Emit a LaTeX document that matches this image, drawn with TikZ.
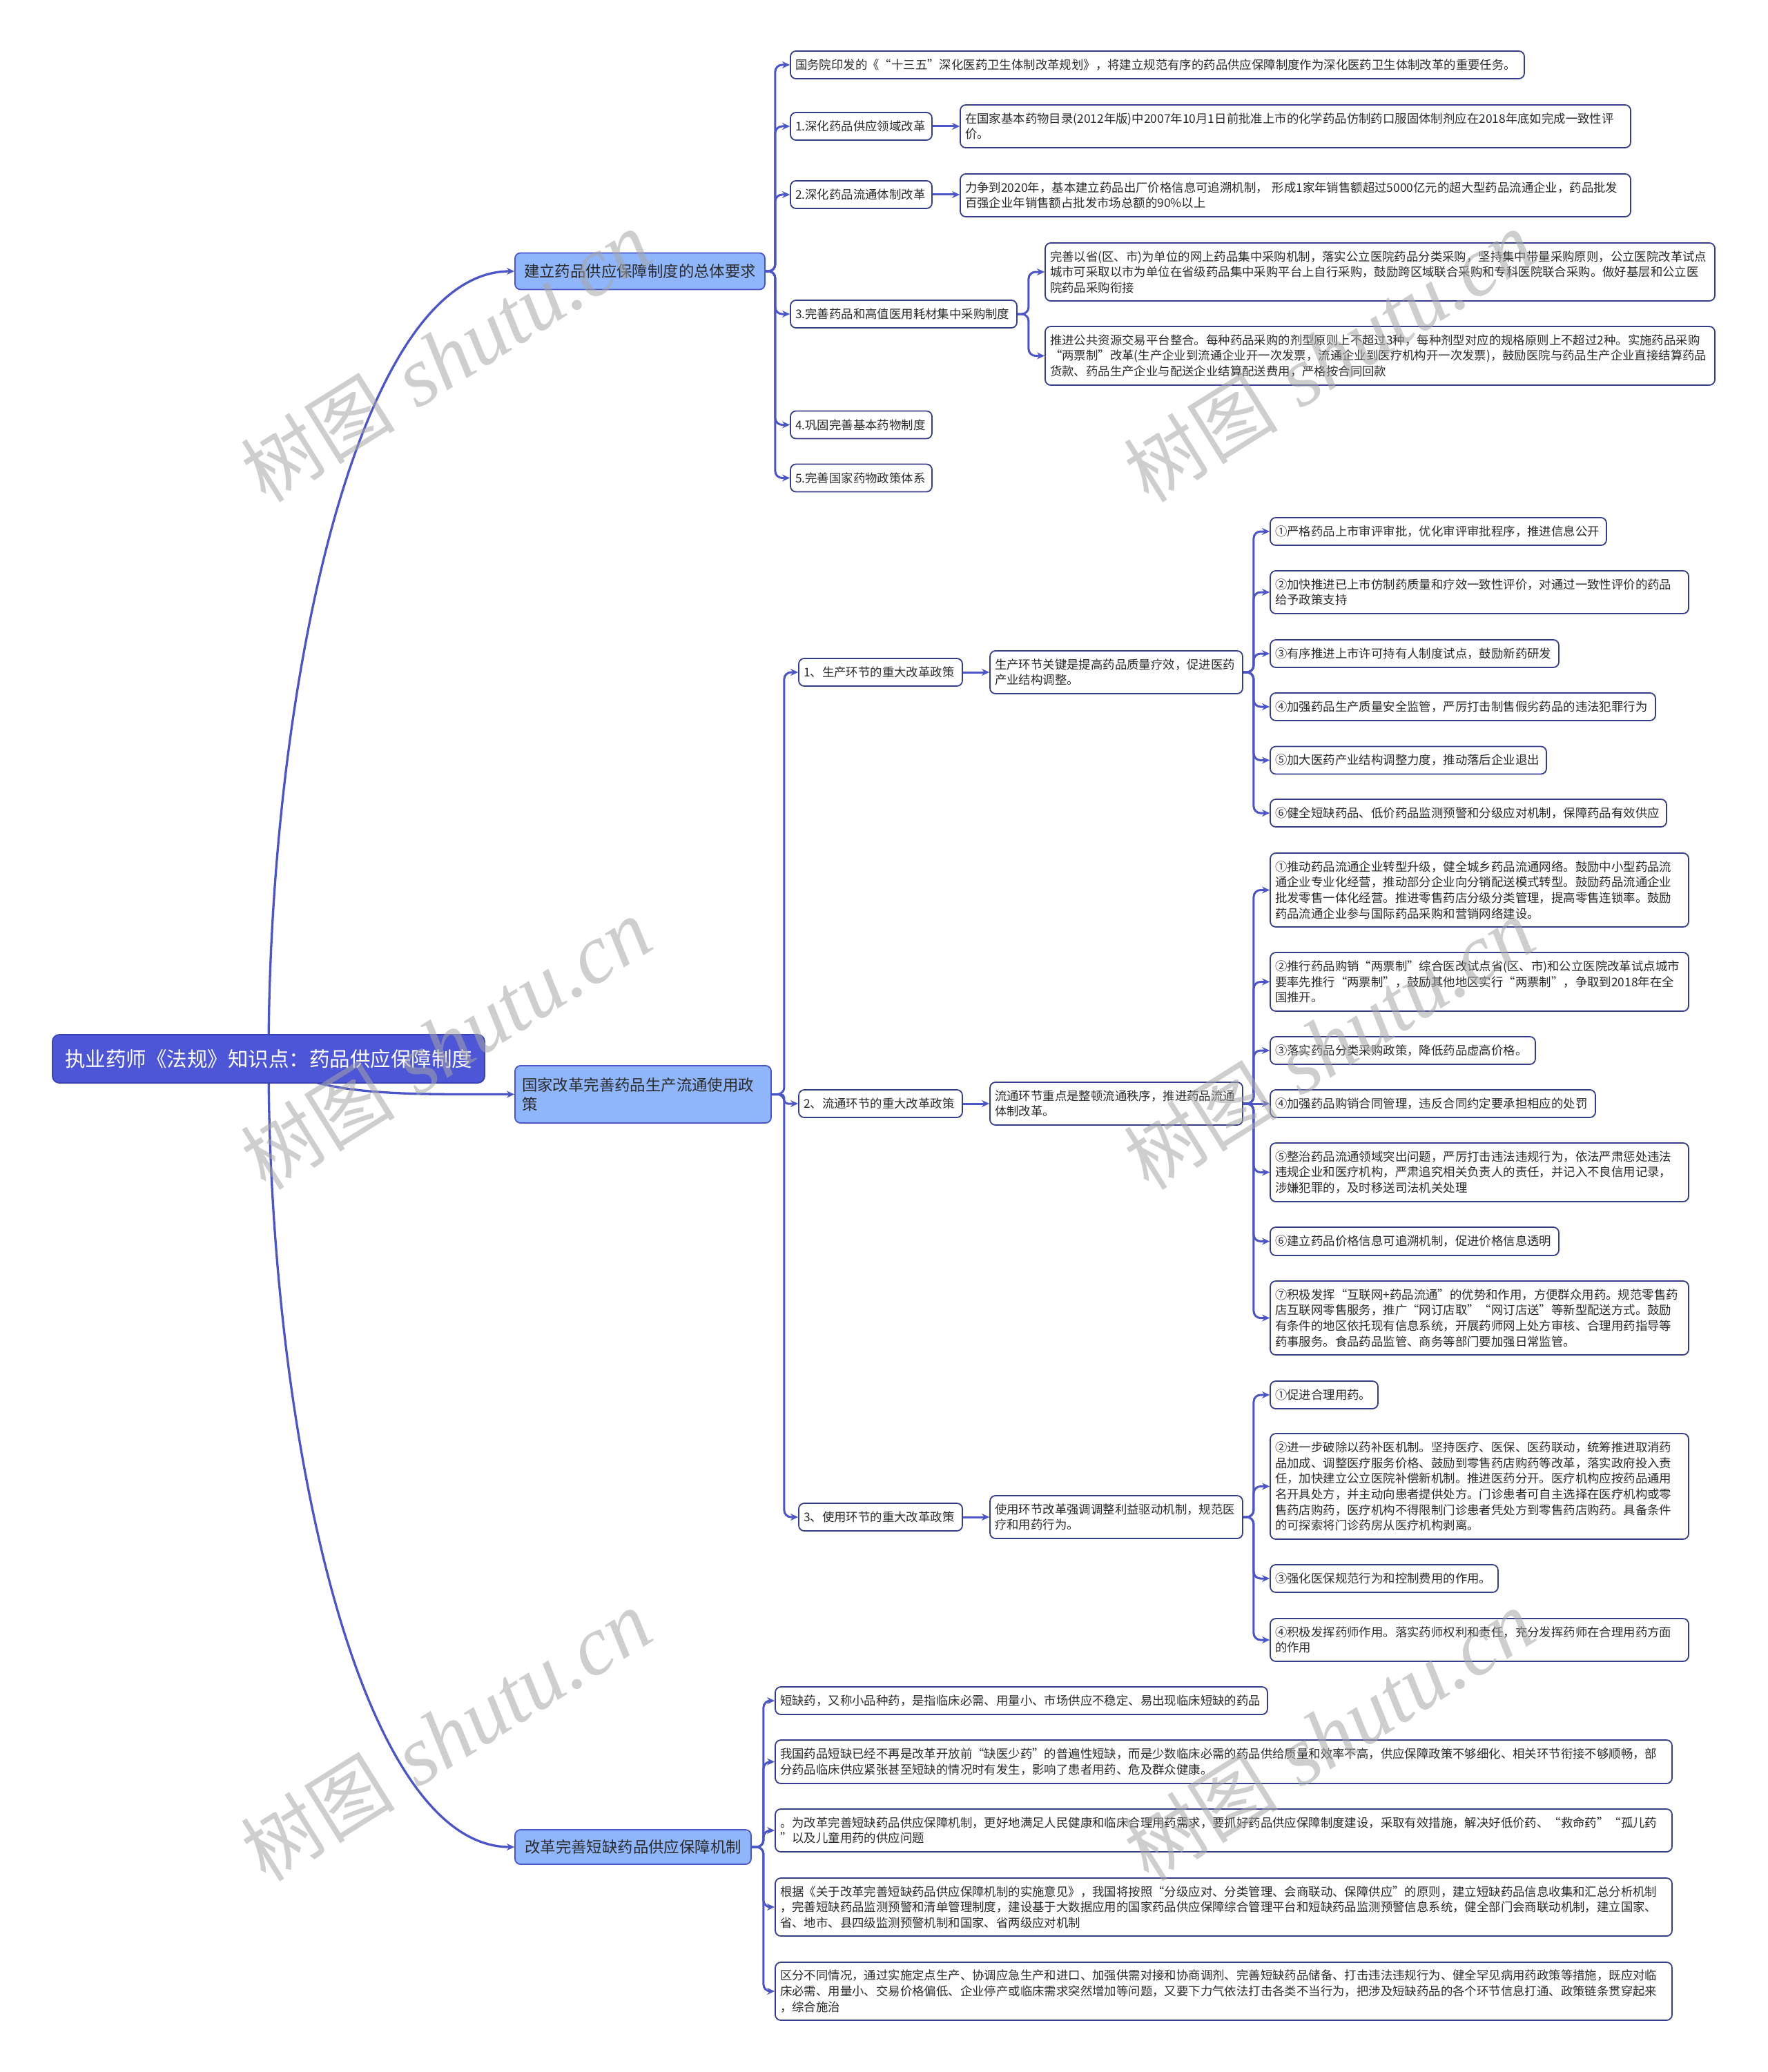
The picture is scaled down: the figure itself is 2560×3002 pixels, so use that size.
\documentclass[tikz,border=0pt]{standalone}
\usepackage{fontspec}
\setmainfont{Noto Sans CJK SC}
\newfontfamily\wmcjk{Noto Sans CJK SC}
\newfontfamily\wmlat{Liberation Serif}
\usetikzlibrary{arrows.meta,backgrounds}
\definecolor{edgec}{HTML}{4B55C8}
\definecolor{leafb}{HTML}{363D8C}
\definecolor{rootf}{HTML}{4C56D6}
\definecolor{rootb}{HTML}{3A43B5}
\definecolor{lonef}{HTML}{8FB5FB}
\definecolor{loneb}{HTML}{4A54C6}
\definecolor{txt}{HTML}{2B2B2B}
\begin{document}
\begin{tikzpicture}[x=1pt,y=-1pt,
  leaf/.style={draw=leafb, line width=1.8pt, fill=white, rounded corners=8pt,
    inner xsep=7pt, inner ysep=3pt, align=left, text=txt,
    font=\fontsize{17.4}{22.6}\selectfont},
  lvone/.style={draw=loneb, line width=1.8pt, fill=lonef, rounded corners=8pt,
    inner xsep=10pt, inner ysep=3pt, text=txt, font=\fontsize{22.4}{28}\selectfont},
  rootnode/.style={draw=rootb, line width=1.8pt, fill=rootf, rounded corners=10pt,
    text=white, inner xsep=10pt, font=\fontsize{29.5}{34}\selectfont},
  edge/.style={draw=edgec, line width=3pt, -{Stealth[length=11pt,width=10pt]}},
  mainedge/.style={edge, line width=3.3pt},
  branch/.style={edge, rounded corners=10pt},
  wm/.style={text=black!35, opacity=0.55, rotate=32, inner sep=0pt}
]
\useasboundingbox (0,0) rectangle (2560,3002);

% ---------- root and level 1 ----------
\node[rootnode, minimum width=626pt, minimum height=70pt] (root) at (389,1534) {执业药师《法规》知识点：药品供应保障制度};
\node[lvone, minimum width=362pt, minimum height=53pt] (A) at (927,393) {建立药品供应保障制度的总体要求};
\node[lvone, text width=351pt, align=left, minimum height=83pt] (B) at (931.5,1585.5) {国家改革完善药品生产流通使用政\\策};
\node[lvone, minimum width=342pt, minimum height=50pt] (C) at (917,2676) {改革完善短缺药品供应保障机制};

% ---------- branch A ----------
\node[leaf, text width=1049pt, minimum height=40pt] (a0) at (1676.5,94) {国务院印发的《“十三五”深化医药卫生体制改革规划》，将建立规范有序的药品供应保障制度作为深化医药卫生体制改革的重要任务。};
\node[leaf, text width=191pt, minimum height=40pt] (a1) at (1247.5,183) {1.深化药品供应领域改革};
\node[leaf, text width=957pt, minimum height=62pt] (a1c) at (1876.5,183) {在国家基本药物目录(2012年版)中2007年10月1日前批准上市的化学药品仿制药口服固体制剂应在2018年底如完成一致性评\\价。};
\node[leaf, text width=191pt, minimum height=40pt] (a2) at (1247.5,282) {2.深化药品流通体制改革};
\node[leaf, text width=957pt, minimum height=62pt] (a2c) at (1876.5,283) {力争到2020年，基本建立药品出厂价格信息可追溯机制， 形成1家年销售额超过5000亿元的超大型药品流通企业，药品批发\\百强企业年销售额占批发市场总额的90\%以上};
\node[leaf, text width=314pt, minimum height=40pt] (a3) at (1309,455) {3.完善药品和高值医用耗材集中采购制度};
\node[leaf, text width=956pt, minimum height=84pt] (a3a) at (1999,394) {完善以省(区、市)为单位的网上药品集中采购机制，落实公立医院药品分类采购，坚持集中带量采购原则，公立医院改革试点\\城市可采取以市为单位在省级药品集中采购平台上自行采购，鼓励跨区域联合采购和专科医院联合采购。做好基层和公立医\\院药品采购衔接};
\node[leaf, text width=956pt, minimum height=85pt] (a3b) at (1999,515.5) {推进公共资源交易平台整合。每种药品采购的剂型原则上不超过3种，每种剂型对应的规格原则上不超过2种。实施药品采购\\“两票制”改革(生产企业到流通企业开一次发票，流通企业到医疗机构开一次发票)，鼓励医院与药品生产企业直接结算药品\\货款、药品生产企业与配送企业结算配送费用，严格按合同回款};
\node[leaf, text width=191pt, minimum height=40pt] (a4) at (1247.5,615.5) {4.巩固完善基本药物制度};
\node[leaf, text width=191pt, minimum height=40pt] (a5) at (1247.5,692.5) {5.完善国家药物政策体系};

% ---------- branch B ----------
\node[leaf, text width=223pt, minimum height=40pt] (b1) at (1275.5,974) {1、生产环节的重大改革政策};
\node[leaf, text width=352pt, minimum height=62pt] (b1c) at (1617,974) {生产环节关键是提高药品质量疗效，促进医药\\产业结构调整。};
\node[leaf, text width=223pt, minimum height=40pt] (b2) at (1275.5,1599) {2、流通环节的重大改革政策};
\node[leaf, text width=352pt, minimum height=62pt] (b2c) at (1617,1599) {流通环节重点是整顿流通秩序，推进药品流通\\体制改革。};
\node[leaf, text width=223pt, minimum height=40pt] (b3) at (1275.5,2198) {3、使用环节的重大改革政策};
\node[leaf, text width=352pt, minimum height=62pt] (b3c) at (1617,2198) {使用环节改革强调调整利益驱动机制，规范医\\疗和用药行为。};

\node[leaf, text width=473pt, minimum height=40pt] (p1) at (2083.5,770) {①严格药品上市审评审批，优化审评审批程序，推进信息公开};
\node[leaf, text width=592pt, minimum height=62pt] (p2) at (2143,858) {②加快推进已上市仿制药质量和疗效一致性评价，对通过一致性评价的药品\\给予政策支持};
\node[leaf, text width=404pt, minimum height=40pt] (p3) at (2049,947) {③有序推进上市许可持有人制度试点，鼓励新药研发};
\node[leaf, text width=544pt, minimum height=40pt] (p4) at (2119,1024) {④加强药品生产质量安全监管，严厉打击制售假劣药品的违法犯罪行为};
\node[leaf, text width=386pt, minimum height=40pt] (p5) at (2040,1101.5) {⑤加大医药产业结构调整力度，推动落后企业退出};
\node[leaf, text width=560pt, minimum height=40pt] (p6) at (2127,1178) {⑥健全短缺药品、低价药品监测预警和分级应对机制，保障药品有效供应};

\node[leaf, text width=592pt, minimum height=107pt] (q1) at (2143,1289.5) {①推动药品流通企业转型升级，健全城乡药品流通网络。鼓励中小型药品流\\通企业专业化经营，推动部分企业向分销配送模式转型。鼓励药品流通企业\\批发零售一体化经营。推进零售药店分级分类管理，提高零售连锁率。鼓励\\药品流通企业参与国际药品采购和营销网络建设。};
\node[leaf, text width=592pt, minimum height=85pt] (q2) at (2143,1422.5) {②推行药品购销“两票制”综合医改试点省(区、市)和公立医院改革试点城市\\要率先推行“两票制”，鼓励其他地区实行“两票制”，争取到2018年在全\\国推开。};
\node[leaf, text width=370pt, minimum height=40pt] (q3) at (2032,1522) {③落实药品分类采购政策，降低药品虚高价格。};
\node[leaf, text width=457pt, minimum height=40pt] (q4) at (2075.5,1599) {④加强药品购销合同管理，违反合同约定要承担相应的处罚};
\node[leaf, text width=592pt, minimum height=85pt] (q5) at (2143,1698.5) {⑤整治药品流通领域突出问题，严厉打击违法违规行为，依法严肃惩处违法\\违规企业和医疗机构，严肃追究相关负责人的责任，并记入不良信用记录，\\涉嫌犯罪的，及时移送司法机关处理};
\node[leaf, text width=404pt, minimum height=41pt] (q6) at (2049,1798.5) {⑥建立药品价格信息可追溯机制，促进价格信息透明};
\node[leaf, text width=592pt, minimum height=107pt] (q7) at (2143,1909.5) {⑦积极发挥“互联网+药品流通”的优势和作用，方便群众用药。规范零售药\\店互联网零售服务，推广“网订店取”“网订店送”等新型配送方式。鼓励\\有条件的地区依托现有信息系统，开展药师网上处方审核、合理用药指导等\\药事服务。食品药品监管、商务等部门要加强日常监管。};

\node[leaf, text width=142pt, minimum height=40pt] (r1) at (1918,2021) {①促进合理用药。};
\node[leaf, text width=592pt, minimum height=153pt] (r2) at (2143,2153.5) {②进一步破除以药补医机制。坚持医疗、医保、医药联动，统筹推进取消药\\品加成、调整医疗服务价格、鼓励到零售药店购药等改革，落实政府投入责\\任，加快建立公立医院补偿新机制。推进医药分开。医疗机构应按药品通用\\名开具处方，并主动向患者提供处方。门诊患者可自主选择在医疗机构或零\\售药店购药，医疗机构不得限制门诊患者凭处方到零售药店购药。具备条件\\的可探索将门诊药房从医疗机构剥离。};
\node[leaf, text width=316pt, minimum height=40pt] (r3) at (2005,2287) {③强化医保规范行为和控制费用的作用。};
\node[leaf, text width=592pt, minimum height=62pt] (r4) at (2143,2376) {④积极发挥药师作用。落实药师权利和责任，充分发挥药师在合理用药方面\\的作用};

% ---------- branch C ----------
\node[leaf, text width=699pt, minimum height=40pt] (s1) at (1479.5,2464) {短缺药，又称小品种药，是指临床必需、用量小、市场供应不稳定、易出现临床短缺的药品};
\node[leaf, text width=1285pt, minimum height=63pt] (s2) at (1772.5,2552.5) {我国药品短缺已经不再是改革开放前“缺医少药”的普遍性短缺，而是少数临床必需的药品供给质量和效率不高，供应保障政策不够细化、相关环节衔接不够顺畅，部\\分药品临床供应紧张甚至短缺的情况时有发生，影响了患者用药、危及群众健康。};
\node[leaf, text width=1285pt, minimum height=62pt] (s3) at (1772.5,2652) {。为改革完善短缺药品供应保障机制，更好地满足人民健康和临床合理用药需求，要抓好药品供应保障制度建设，采取有效措施，解决好低价药、“救命药”“孤儿药\\”以及儿童用药的供应问题};
\node[leaf, text width=1285pt, minimum height=84pt] (s4) at (1772.5,2763) {根据《关于改革完善短缺药品供应保障机制的实施意见》，我国将按照“分级应对、分类管理、会商联动、保障供应”的原则，建立短缺药品信息收集和汇总分析机制\\，完善短缺药品监测预警和清单管理制度，建设基于大数据应用的国家药品供应保障综合管理平台和短缺药品监测预警信息系统，健全部门会商联动机制，建立国家、\\省、地市、县四级监测预警机制和国家、省两级应对机制};
\node[leaf, text width=1285pt, minimum height=84pt] (s5) at (1772.5,2885) {区分不同情况，通过实施定点生产、协调应急生产和进口、加强供需对接和协商调剂、完善短缺药品储备、打击违法违规行为、健全罕见病用药政策等措施，既应对临\\床必需、用量小、交易价格偏低、企业停产或临床需求突然增加等问题，又要下力气依法打击各类不当行为，把涉及短缺药品的各个环节信息打通、政策链条贯穿起来\\，综合施治};

% ---------- connectors ----------
\begin{pgfonlayer}{background}
\fill[white] (0,0) rectangle (2560,3002);
\draw[mainedge] (root.center) .. controls +(0,-535) and +(-227,0) .. (A.west);
\draw[mainedge] (root.center) .. controls +(60,55) and +(-160,0) .. (B.west);
\draw[mainedge] (root.center) .. controls +(0,535) and +(-227,0) .. (C.west);

\foreach \c in {a0,a1,a2,a3,a4,a5} \draw[branch] (A.east) -- ++(14,0) |- (\c.west);
\draw[edge] (a1.east) -- (a1c.west);
\draw[edge] (a2.east) -- (a2.east -| a2c.west);
\foreach \c in {a3a,a3b} \draw[branch] (a3.east) -- ++(16,0) |- (\c.west);

\foreach \c in {b1,b3} \draw[branch] (B.east) -- ++(18,0) |- (\c.west);
\draw[branch, rounded corners=5pt] (B.east) -- ++(18,0) |- (b2.west);
\draw[edge] (b1.east) -- (b1c.west);
\draw[edge] (b2.east) -- (b2c.west);
\draw[edge] (b3.east) -- (b3c.west);
\foreach \c in {p1,p2,p3,p4,p5,p6} \draw[branch] (b1c.east) -- ++(15,0) |- (\c.west);
\foreach \c in {q1,q2,q3,q5,q6,q7} \draw[branch] (b2c.east) -- ++(15,0) |- (\c.west);
\draw[edge] (b2c.east) -- (q4.west);
\foreach \c in {r1,r2,r3,r4} \draw[branch] (b3c.east) -- ++(15,0) |- (\c.west);

\foreach \c in {s1,s2,s3,s4,s5} \draw[branch] (C.east) -- ++(17,0) |- (\c.west);
\end{pgfonlayer}

% ---------- watermarks ----------
\foreach \wx/\wy [count=\i] in {646/517, 1925/517, 646/1513, 1925/1513, 646/2515, 1925/2515}
  \node[wm] (wm\i) at (\wx,\wy) {{\wmcjk\fontsize{112}{130}\selectfont 树图}\hspace{34pt}{\wmlat\itshape\fontsize{122}{130}\selectfont shutu.cn}};
\end{tikzpicture}
\end{document}
